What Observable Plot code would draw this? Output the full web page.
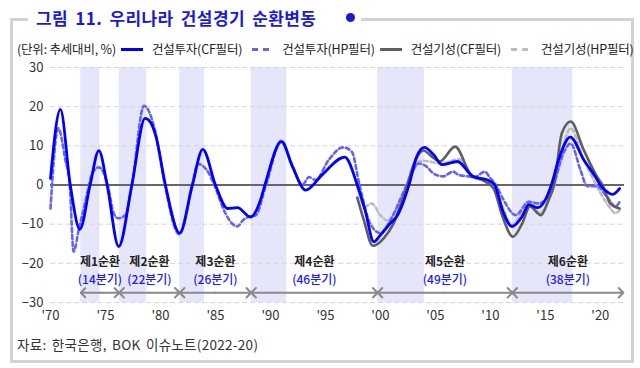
<!DOCTYPE html>
<html>
<head>
<meta charset="utf-8">
<script src="https://cdn.jsdelivr.net/npm/d3@7"></script>
<script src="https://cdn.jsdelivr.net/npm/@observablehq/plot@0.6"></script>
<style>
  body { margin: 0; background: #fff; font-family: "Noto Sans CJK KR", "Noto Sans", sans-serif; }
  #wrap { position: relative; width: 640px; height: 368px; overflow: hidden; background: #fff; }
  #frame { position: absolute; left: 10px; top: 18px; width: 618px; height: 339px; border: 3px solid #d2d2d2; }
  #title { position: absolute; left: 28px; top: 5px; display: flex; align-items: center; background: #fff; padding: 0 6px 0 8px; }
  #title span.t { color: #1a1ad6; font-weight: bold; font-size: 17px; letter-spacing: 0.4px; word-spacing: 3px; white-space: nowrap; }
  #title span.dot { width: 9px; height: 9px; border-radius: 50%; background: #1a1ad6; margin-left: 30px; }
  #legend { position: absolute; left: 17px; top: 42px; height: 14px; line-height: 14px; font-size: 12.5px; color: #222; white-space: nowrap; display: flex; align-items: center; letter-spacing: -0.2px; }
  #legend .sw { display: inline-block; width: 22px; height: 0; margin: 0 9px 0 5px; }
  #chart { position: absolute; left: 0; top: 40px; }
  #caption { position: absolute; left: 17px; top: 334px; font-size: 13.5px; letter-spacing: 0.3px; word-spacing: 2px; color: #333; white-space: nowrap; }
</style>
</head>
<body>
<div id="wrap">
  <div id="frame"></div>
  <div id="title"><span class="t">그림 11. 우리나라 건설경기 순환변동</span><span class="dot"></span></div>
  <div id="legend"></div>
  <div id="chart"></div>
  <div id="caption">자료: 한국은행, BOK 이슈노트(2022-20)</div>
</div>
<script>
// ---- data (year as decimal quarter position, value = % deviation from trend) ----
const investCF = [
  [1970.0, 1.7], [1970.9, 19.3], [1971.8, 0], [1972.67, -11.3], [1973.6, 0], [1974.4, 8.8],
  [1975.15, 0], [1976.2, -15.7], [1977.4, 0], [1978.6, 17.0], [1979.1, 16.0], [1979.6, 12.3],
  [1980.45, 0], [1981.75, -12.3], [1982.9, 0], [1983.85, 9.1], [1985.0, 0], [1986.1, -6.0],
  [1987.0, -5.8], [1988.2, -8.2], [1989.1, -3.8], [1989.5, 0], [1991.0, 11.1], [1992.0, 4.7],
  [1993.2, -1.3], [1994.7, 2.6], [1996.76, 7.1], [1997.9, 0], [1998.64, -6.8], [1999.4, -14.5],
  [2000.0, -12.8], [2000.9, -9.8], [2001.5, -8.0], [2002.6, 0], [2003.3, 7.2], [2004.0, 9.6],
  [2004.85, 7.7], [2005.6, 5.2], [2007.0, 6.0], [2008.4, 2.2], [2009.8, 1.2], [2010.4, 0],
  [2011.1, -6.4], [2011.97, -10.6], [2012.9, -8.0], [2013.5, -5.0], [2014.3, -5.8], [2015.0, -3.8],
  [2015.55, 0], [2016.2, 6.4], [2017.27, 12.2], [2018.5, 6.4], [2019.55, 2.1], [2020.0, 0],
  [2020.6, -1.7], [2021.1, -2.4], [2021.75, -0.9]
];
const investHP = [
  [1970.0, -6.0], [1970.7, 14.5], [1971.35, 6.4], [1971.75, 0], [1972.1, -17.0], [1972.6, -11.0],
  [1973.2, -3.8], [1973.5, 0], [1973.8, 3.0], [1974.4, 4.5], [1975.2, 0], [1975.75, -7.2],
  [1976.15, -8.5], [1976.8, -7.7], [1977.4, 0], [1978.5, 20.2], [1979.5, 14.0], [1980.4, 0],
  [1981.7, -12.6], [1982.9, 0], [1983.4, 5.4], [1984.4, 3.0], [1984.9, 0], [1985.9, -7.2],
  [1987.0, -10.6], [1987.5, -9.0], [1988.2, -8.0], [1988.64, -7.8], [1989.6, 0], [1991.0, 11.3],
  [1992.0, 5.0], [1992.9, 0], [1993.5, 2.0], [1994.1, 1.3], [1995.3, 6.4], [1996.6, 9.6],
  [1997.4, 8.5], [1998.1, 0], [1999.1, -10.0], [2000.0, -12.3], [2000.9, -9.0], [2002.4, 0],
  [2003.5, 5.5], [2004.2, 4.7], [2004.8, 3.0], [2005.7, 2.2], [2006.6, 3.4], [2007.1, 2.6],
  [2008.0, 2.2], [2008.6, 2.1], [2009.5, 3.4], [2009.9, 2.1], [2010.5, 0], [2011.2, -3.8],
  [2012.3, -7.7], [2013.5, -4.3], [2014.4, -4.7], [2015.0, -3.8], [2015.7, 0], [2016.8, 9.0],
  [2017.3, 10.6], [2018.2, 3.8], [2018.8, -0.3], [2019.7, -0.3], [2020.6, -3.0], [2021.4, -5.5],
  [2021.75, -4.3]
];
const outputCF = [
  [1997.9, -3.2], [1998.5, -9.0], [1999.3, -15.5], [2000.3, -13.6], [2001.2, -9.8], [2002.3, -1.3],
  [2003.2, 6.4], [2003.9, 8.8], [2004.7, 7.2], [2005.4, 6.0], [2006.8, 9.8], [2008.2, 2.8],
  [2009.5, 0.9], [2010.3, -0.9], [2011.1, -8.0], [2012.06, -13.2], [2012.9, -9.8], [2013.6, -5.5],
  [2014.6, -7.7], [2015.3, -3.8], [2015.8, 0], [2016.5, 13.2], [2017.3, 16.2], [2018.5, 8.9],
  [2019.7, 2.1], [2020.2, 0], [2020.9, -4.7], [2021.75, -6.0]
];
const outputHP = [
  [1997.9, -0.5], [1998.6, -5.5], [1999.2, -4.7], [2000.0, -7.7], [2000.6, -9.0], [2001.2, -7.7],
  [2002.0, -3.0], [2003.2, 5.5], [2003.9, 6.2], [2005.45, 5.5], [2007.2, 6.6], [2008.4, 1.8],
  [2009.5, 1.3], [2010.3, 0], [2011.1, -5.5], [2011.97, -10.2], [2013.5, -4.3], [2014.5, -7.2],
  [2015.8, 0], [2017.3, 14.5], [2018.4, 7.2], [2019.55, 0.4], [2020.6, -4.7], [2021.4, -7.2],
  [2021.75, -6.4]
];
// expansion (shaded) periods
const shadeStart = [1972.75, 1976.25, 1981.75, 1988.25, 1999.75, 2012.0];
const shadeEnd   = [1974.5, 1978.75, 1984.0, 1991.5, 2004.0, 2017.5];
// construction cycles
const cycleNames    = ["제1순환", "제2순환", "제3순환", "제4순환", "제5순환", "제6순환"];
const cycleQuarters = [14, 22, 26, 46, 49, 38];
const cycleStart    = [1972.75, 1976.25, 1981.75, 1988.25, 1999.75, 2012.0];
const cycleEnd      = [1976.25, 1981.75, 1988.25, 1999.75, 2012.0, 2022.1];
// axes
const xTicks = [1970, 1975, 1980, 1985, 1990, 1995, 2000, 2005, 2010, 2015, 2020];
const yTicks = [-30, -20, -10, 0, 10, 20, 30];
const seriesNames = ["건설투자(CF필터)", "건설투자(HP필터)", "건설기성(CF필터)", "건설기성(HP필터)"];

// ---- build ----
const toRows = arr => arr.map(([t, v]) => ({t, v}));
const shades = shadeStart.map((s, i) => ({x1: s, x2: shadeEnd[i]}));
const cycles = cycleNames.map((n, i) => ({
  name: n, q: cycleQuarters[i], s: cycleStart[i], e: cycleEnd[i], m: (cycleStart[i] + cycleEnd[i]) / 2
}));
const arrowLevel = -27.5, nameLevel = -19.8, qLevel = -24.2;

const styles = [
  {stroke: "#0000ff", strokeWidth: 2.8, dash: null},
  {stroke: "#6464f2", strokeWidth: 2.6, dash: "4,3"},
  {stroke: "#5f5f5f", strokeWidth: 2.6, dash: null},
  {stroke: "#bdbdbd", strokeWidth: 2.6, dash: "4,3"}
];

const lineMark = (data, st) => Plot.line(toRows(data), {
  x: "t", y: "v", curve: "monotone-x", stroke: st.stroke, strokeWidth: st.strokeWidth,
  strokeDasharray: st.dash || undefined
});

const fmtY = d => d < 0 ? "−" + Math.abs(d) : String(d);

const chart = Plot.plot({
  width: 640, height: 290,
  marginLeft: 50, marginRight: 16, marginTop: 27, marginBottom: 28,
  x: {domain: [1970, 2022.2], label: null},
  y: {domain: [-30, 30], label: null},
  style: {fontFamily: '"Noto Sans CJK KR", "Noto Sans", sans-serif', fontSize: "13px", color: "#333", background: "transparent", overflow: "visible"},
  marks: [
    Plot.rect(shades, {x1: "x1", x2: "x2", y1: -30, y2: 30, fill: "#e6e6fb"}),
    Plot.ruleY(yTicks.filter(d => d !== 0), {stroke: "#d6d6d6", strokeDasharray: "5,3"}),
    Plot.ruleY([0], {stroke: "#666", strokeWidth: 2}),
    Plot.axisY({ticks: yTicks, tickSize: 0, tickPadding: 7, tickFormat: fmtY, fontSize: 13, label: null}),
    Plot.axisX({ticks: xTicks, tickSize: 0, tickPadding: 8, tickFormat: d => "'" + String(d).slice(2), fontSize: 13, label: null}),
    lineMark(outputHP, styles[3]),
    lineMark(investHP, styles[1]),
    lineMark(outputCF, styles[2]),
    lineMark(investCF, styles[0]),
    Plot.arrow(cycles, {x1: "m", x2: "s", y1: arrowLevel, y2: arrowLevel, bend: 0, stroke: "#8a8a8a", strokeWidth: 2, headLength: 5, headAngle: 90}),
    Plot.arrow(cycles, {x1: "m", x2: "e", y1: arrowLevel, y2: arrowLevel, bend: 0, stroke: "#8a8a8a", strokeWidth: 2, headLength: 5, headAngle: 90}),
    Plot.text(cycles, {x: "m", y: nameLevel, text: "name", fill: "#222", fontWeight: "bold", fontSize: 12}),
    Plot.text(cycles, {x: "m", y: qLevel, text: d => `(${d.q}분기)`, fill: "#1a1aff", fontWeight: 500, fontSize: 12})
  ]
});
document.getElementById("chart").appendChild(chart);

// legend
const lg = document.getElementById("legend");
const unit = document.createElement("span");
unit.textContent = "(단위: 추세대비, %)";
lg.appendChild(unit);
seriesNames.forEach((n, i) => {
  const st = styles[i];
  const sw = document.createElement("span");
  sw.className = "sw";
  sw.style.borderTop = `3px ${st.dash ? "dashed" : "solid"} ${st.stroke}`;
  if (st.dash) { sw.style.width = "17px"; sw.style.margin = "0 13px 0 10px"; }
  const tx = document.createElement("span");
  tx.textContent = n;
  lg.appendChild(sw);
  lg.appendChild(tx);
});
</script>
</body>
</html>
